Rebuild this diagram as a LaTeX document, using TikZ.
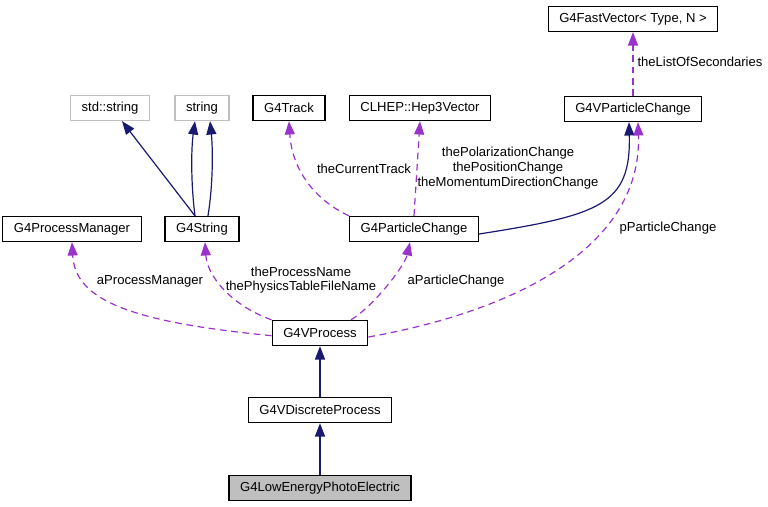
\documentclass[tikz,border=0pt]{standalone}
\usepackage{fontspec}
\setmainfont{Liberation Sans}
\usetikzlibrary{arrows.meta}

\definecolor{inhblue}{RGB}{25,25,112}
\definecolor{usepurple}{RGB}{154,50,205}
\definecolor{extgray}{RGB}{191,191,191}

\tikzset{
  every picture/.style={line width=0.75pt},
  classbox/.style={draw=black, line width=1pt, fill=white, inner xsep=8.3pt, inner ysep=0pt, minimum height=18.75pt},
  extbox/.style={classbox, draw=extgray},
  curbox/.style={classbox, fill=extgray},
  inh/.style={draw=inhblue, line width=0.9pt, -{Triangle[length=10pt,width=7.5pt]}, color=inhblue},
  use/.style={draw=usepurple, line width=0.9pt, dash pattern=on 5pt off 3.5pt, -{Triangle[length=10pt,width=7.5pt]}, color=usepurple},
  elabel/.style={inner sep=0.75pt, align=center, text=black}
}

\begin{document}
\begin{tikzpicture}[x=0.75pt,y=0.75pt,yscale=-1,xscale=1, font=\fontsize{9.8pt}{11pt}\selectfont]
\useasboundingbox (0,0) rectangle (768,507);

% Class boxes
\node [classbox] (fastvec) at (633,19) {G4FastVector< Type, N >};
\node [classbox] (vpchange) at (633,109) {G4VParticleChange};
\node [extbox] (stdstring) at (110,108) {std::string};
\node [extbox] (string) at (202,108) {string};
\node [classbox] (track) at (289,108) {G4Track};
\node [classbox] (hep) at (420,108) {CLHEP::Hep3Vector};
\node [classbox] (pmanager) at (72,229) {G4ProcessManager};
\node [classbox] (g4string) at (202,229) {G4String};
\node [classbox] (pchange) at (414,229) {G4ParticleChange};
\node [classbox] (vprocess) at (320,333) {G4VProcess};
\node [classbox] (vdiscrete) at (320,410) {G4VDiscreteProcess};
\node [curbox] (lowenergy) at (320,488) {G4LowEnergyPhotoElectric};

% Inheritance
\draw [inh] (lowenergy) -- (vdiscrete);
\draw [inh] (vdiscrete) -- (vprocess);
\draw [inh] ([xshift=-5.25pt]g4string.north) -- ([xshift=9pt]stdstring.south);
\draw [inh] ([xshift=-5.25pt]g4string.north) .. controls (191,185) and (191,150) .. ([xshift=-5.25pt]string.south);
\draw [inh] ([xshift=4.5pt]g4string.north) .. controls (213,185) and (213,150) .. ([xshift=6pt]string.south);
\draw [inh] ([yshift=3.75pt]pchange.east) .. controls (600,215) and (631,205) .. ([xshift=-3pt]vpchange.south);

% Usage
\draw [use] (vpchange) -- (fastvec);
\draw [use] (pchange.north west) .. controls (315,200) and (292,170) .. (track.south);
\draw [use] (pchange.north) -- (hep.south);
\draw [use] ([yshift=3pt]vprocess.east) .. controls (520,310) and (642,245) .. ([xshift=3.75pt]vpchange.south);
\draw [use] ([yshift=2pt]vprocess.west) .. controls (130,322) and (75,300) .. (pmanager.south);
\draw [use] (vprocess.north west) .. controls (230,305) and (207,275) .. ([xshift=2.25pt]g4string.south);
\draw [use] ([xshift=23.25pt]vprocess.north) .. controls (375,305) and (405,265) .. ([xshift=-3pt]pchange.south);

% Text Node
\node [elabel] (lbltrack) at (364,169) {theCurrentTrack};
\node [elabel] (lblhep) at (508,168) {thePolarizationChange\\thePositionChange\\theMomentumDirectionChange};
\node [elabel, anchor=west] (lblsec) at (636,62) {theListOfSecondaries};
\node [elabel] (lblvpc) at (668,228) {pParticleChange};
\node [elabel] (lblpm) at (150,281) {aProcessManager};
\node [elabel] (lblname) at (301,280) {theProcessName\\thePhysicsTableFileName};
\node [elabel] (lblpc) at (456,281) {aParticleChange};

\end{tikzpicture}
\end{document}
